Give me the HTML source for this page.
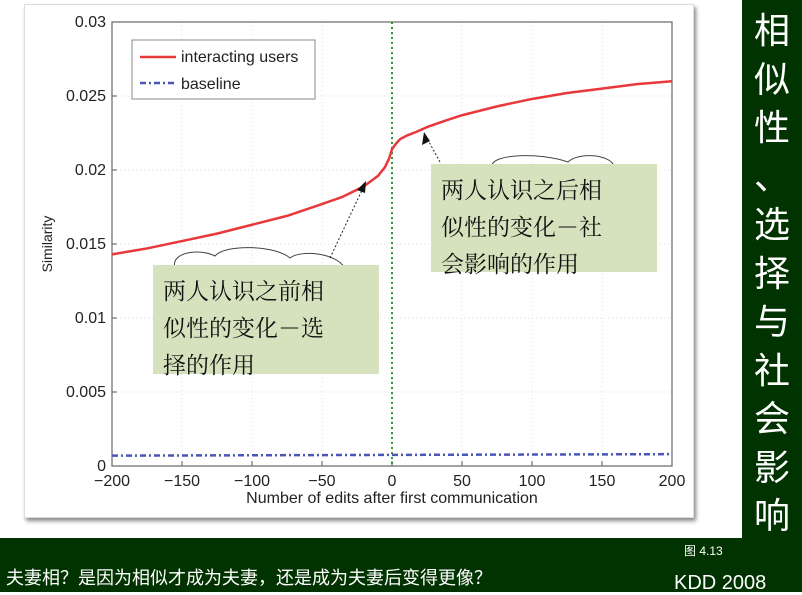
<!DOCTYPE html>
<html><head><meta charset="utf-8"><style>
body{margin:0;width:802px;height:592px;overflow:hidden;background:#fff;font-family:"Liberation Sans","Noto Sans CJK SC",sans-serif;position:relative}
.box{position:absolute;background:#d6e2bd;font-family:"Noto Serif CJK SC","Noto Sans CJK SC",serif;font-size:23px;line-height:37px;color:#111;padding:6px 10px;box-sizing:border-box}
</style></head><body>
<div style="position:absolute;left:24px;top:4px;width:668px;height:512px;background:#fff;box-shadow:2px 3px 4px #888;border:1px solid #ddd"></div>
<svg width="802" height="592" style="position:absolute;left:0;top:0">
<g id="g"></g>
</svg>
<div style="position:absolute;left:742px;top:0;width:60px;height:538px;background:#003300;color:#fff;font-size:36px;text-align:center;line-height:48.5px;font-family:'Noto Sans CJK SC',sans-serif;padding-top:4px;box-sizing:border-box">相<br>似<br>性<br>、<br>选<br>择<br>与<br>社<br>会<br>影<br>响</div>
<div style="position:absolute;left:0;top:538px;width:802px;height:54px;background:#003300;color:#fff">
<div style="position:absolute;left:684px;top:4px;font-size:12px">图 4.13</div>
<div style="position:absolute;left:6px;top:26px;font-size:18px;font-family:'Noto Sans CJK SC',sans-serif">夫妻相？是因为相似才成为夫妻，还是成为夫妻后变得更像？</div>
<div style="position:absolute;left:674px;top:34px;font-size:20px">KDD 2008</div>
</div>
<div class="box" style="left:153px;top:265px;width:226px;height:109px">两人认识之前相<br>似性的变化－选<br>择的作用</div>
<div class="box" style="left:431px;top:164px;width:226px;height:108px">两人认识之后相<br>似性的变化－社<br>会影响的作用</div>
<script>
const xTicks=[-200,-150,-100,-50,0,50,100,150,200];
const yTicks=[0,0.005,0.01,0.015,0.02,0.025,0.03];
const yTickLabels=["0","0.005","0.01","0.015","0.02","0.025","0.03"];
const redX=[-200,-175,-150,-125,-100,-75,-50,-35,-20,-10,-5,-2,0,3,6,10,18,25,37,50,75,100,125,150,175,200];
const redY=[0.0143,0.0147,0.0152,0.0157,0.0163,0.0169,0.0177,0.0182,0.0189,0.0196,0.0202,0.0208,0.0214,0.0218,0.0221,0.0223,0.0226,0.0229,0.0233,0.0237,0.0243,0.0248,0.0252,0.0255,0.0258,0.0260];
const baseX=[-200,200];
const baseY=[0.0007,0.0008];
const L=112,R=672,T=22,B=466;
const sx=v=>L+(v+200)/400*(R-L), sy=v=>B-v/0.03*(B-T);
const g=document.getElementById('g');const NS='http://www.w3.org/2000/svg';
function el(t,a,name){const e=document.createElementNS(NS,t);for(const k in a)e.setAttribute(k,a[k]);


g.appendChild(e);return e;}
xTicks.forEach(v=>{el('line',{x1:sx(v),x2:sx(v),y1:T,y2:B,stroke:'#ddd','stroke-dasharray':'1 3'},'x-grid');
el('line',{x1:sx(v),x2:sx(v),y1:B,y2:B-5,stroke:'#555'},'x-tick');
const t=el('text',{x:sx(v),y:B+20,'text-anchor':'middle','font-size':16,fill:'#222'},'x-tick-label');t.textContent=v<0?'\u2212'+(-v):v;});
yTicks.forEach((v,i)=>{el('line',{x1:L,x2:R,y1:sy(v),y2:sy(v),stroke:'#ddd','stroke-dasharray':'1 3'},'y-grid');
el('line',{x1:L,x2:L+5,y1:sy(v),y2:sy(v),stroke:'#555'},'y-tick');
const t=el('text',{x:L-6,y:sy(v)+5,'text-anchor':'end','font-size':16,fill:'#222'},'y-tick-label');t.textContent=yTickLabels[i];});
el('rect',{x:L,y:T,width:R-L,height:B-T,fill:'none',stroke:'#666','stroke-width':1.2},'plot-area');
el('line',{x1:sx(0),x2:sx(0),y1:T,y2:B,stroke:'#2a9a2a','stroke-width':2,'stroke-dasharray':'2 3'},'zero-line');
el('polyline',{points:redX.map((x,i)=>sx(x)+','+sy(redY[i])).join(' '),fill:'none',stroke:'#e8383a','stroke-width':2.5,'stroke-linejoin':'round'},'interacting-users-line');
el('polyline',{points:baseX.map((x,i)=>sx(x)+','+sy(baseY[i])).join(' '),fill:'none',stroke:'#4a55b8','stroke-width':2.5,'stroke-dasharray':'6 3 2 3'},'baseline-line');
let t=el('text',{x:392,y:503,'text-anchor':'middle','font-size':16,fill:'#222'},'x-axis-title');t.textContent='Number of edits after first communication';
t=el('text',{x:0,y:0,'text-anchor':'middle','font-size':14,fill:'#222',transform:'translate(52,244) rotate(-90)'},'y-axis-title');t.textContent='Similarity';
el('rect',{x:132,y:40,width:183,height:59,fill:'#fff',stroke:'#888'},'legend-box');
el('line',{x1:140,x2:176,y1:57,y2:57,stroke:'#e8383a','stroke-width':2.5},'legend-red-swatch');
el('line',{x1:140,x2:176,y1:83,y2:83,stroke:'#4a55b8','stroke-width':2.5,'stroke-dasharray':'6 3 2 3'},'legend-blue-swatch');
t=el('text',{x:181,y:62,'font-size':16,fill:'#222'},'legend-entry');t.textContent='interacting users';
t=el('text',{x:181,y:89,'font-size':16,fill:'#222'},'legend-entry');t.textContent='baseline';
el('path',{d:'M175,268 C170,252 200,248 215,256 C225,244 275,245 290,258 C300,250 335,252 345,268',fill:'none',stroke:'#444'},'cloud-before');
el('path',{d:'M492,166 C492,154 540,152 568,162 C578,152 610,154 614,166',fill:'none',stroke:'#444'},'cloud-after');
el('line',{x1:330,y1:258,x2:363,y2:188,stroke:'#222','stroke-dasharray':'2 2'},'arrow-before');
el('path',{d:'M366,181 L357,190 L365,193 Z',fill:'#111'},'arrowhead-before');
el('line',{x1:440,y1:162,x2:428,y2:140,stroke:'#222','stroke-dasharray':'2 2'},'arrow-after');
el('path',{d:'M424,132 L422,145 L430,141 Z',fill:'#111'},'arrowhead-after');
</script>
</body></html>
